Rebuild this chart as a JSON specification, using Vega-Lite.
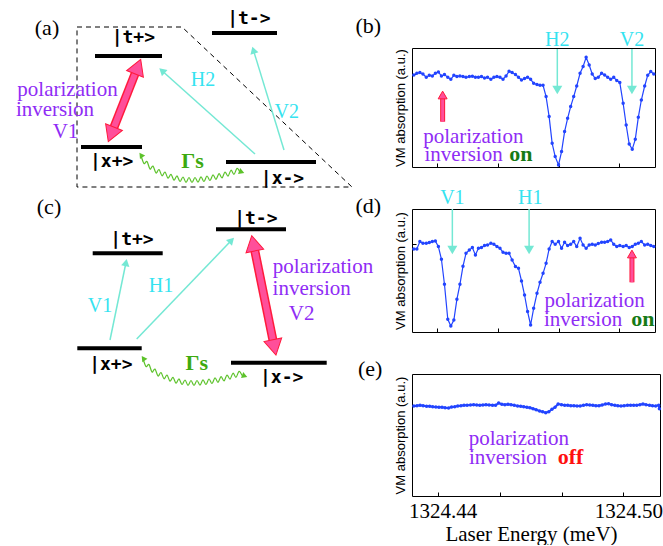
{
"$schema": "https://vega.github.io/schema/vega-lite/v6.json",
"background": "white",
"padding": {"left": 0, "top": 10, "right": 0, "bottom": 0},
"config": {
  "font": "Liberation Serif",
  "view": {"stroke": "black", "strokeWidth": 1},
  "axis": {"grid": false, "domain": false, "tickColor": "black", "labelColor": "black", "titleColor": "black", "titleFontWeight": "normal"}
},
"datasets": {
  "diagA": [
    {"role":"frame","i":0,"x":77,"y":168},{"role":"frame","i":1,"x":182,"y":168},{"role":"frame","i":2,"x":352,"y":8},{"role":"frame","i":3,"x":77,"y":8},{"role":"frame","i":4,"x":77,"y":168},
    {"role":"level","x":95,"x2":162,"y":139},{"role":"level","x":212,"x2":277,"y":162},{"role":"level","x":81,"x2":142,"y":48},{"role":"level","x":226,"x2":316,"y":33},
    {"role":"state","x":133.3,"y":152.3,"text":"|t+>"},{"role":"state","x":248.8,"y":171,"text":"|t->"},{"role":"state","x":111.7,"y":28.3,"text":"|x+>"},{"role":"state","x":282.5,"y":10.7,"text":"|x->"},
    {"role":"tag","x":47,"y":160,"text":"(a)"},
    {"role":"probeLabel","x":203,"y":109,"text":"H2"},{"role":"probeLabel","x":286.7,"y":76.7,"text":"V2"},
    {"role":"note","x":67.5,"y":98.8,"text":"polarization"},{"role":"note","x":55,"y":78.8,"text":"inversion"},{"role":"note","x":65.5,"y":56.7,"text":"V1"},
    {"role":"rate","x":192.5,"y":27.3,"text":"Γs"},
    {"role":"probe","x":255,"y":41,"x2":162,"y2":124.3},{"role":"probe","x":284,"y":45,"x2":253.4,"y2":144.9},
    {"role":"probeHead","x":162,"y":124.3,"dir":-48.2},{"role":"probeHead","x":253.4,"y":144.9,"dir":-17},
    {"role":"pump","x":137.85,"y":128.4,"x2":111.15,"y2":60.6},
    {"role":"pumpHead","x":137.85,"y":128.4,"dir":21.5},{"role":"pumpHead","x":111.15,"y":60.6,"dir":201.5},
    {"role":"relax","i":0,"x":141,"y":39.5},{"role":"relax","i":1,"x":144,"y":31.5},{"role":"relax","i":2,"x":147,"y":33.5},{"role":"relax","i":3,"x":150,"y":26},{"role":"relax","i":4,"x":153,"y":28.9},{"role":"relax","i":5,"x":156,"y":22},{"role":"relax","i":6,"x":159,"y":25.5},{"role":"relax","i":7,"x":162,"y":19.2},{"role":"relax","i":8,"x":165,"y":23},{"role":"relax","i":9,"x":168,"y":16.8},{"role":"relax","i":10,"x":171,"y":20.7},{"role":"relax","i":11,"x":174,"y":14.8},{"role":"relax","i":12,"x":177,"y":19.1},{"role":"relax","i":13,"x":180,"y":13.5},{"role":"relax","i":14,"x":183,"y":18},{"role":"relax","i":15,"x":186,"y":12.7},{"role":"relax","i":16,"x":189,"y":17.5},{"role":"relax","i":17,"x":192,"y":12.5},{"role":"relax","i":18,"x":195,"y":17.5},{"role":"relax","i":19,"x":198,"y":12.8},{"role":"relax","i":20,"x":201,"y":18.1},{"role":"relax","i":21,"x":204,"y":13.5},{"role":"relax","i":22,"x":207,"y":19},{"role":"relax","i":23,"x":210,"y":14.5},{"role":"relax","i":24,"x":213,"y":20.1},{"role":"relax","i":25,"x":216,"y":15.7},{"role":"relax","i":26,"x":219,"y":21.3},{"role":"relax","i":27,"x":222,"y":17.1},{"role":"relax","i":28,"x":225,"y":23},{"role":"relax","i":29,"x":228,"y":18.9},{"role":"relax","i":30,"x":231,"y":24.8},{"role":"relax","i":31,"x":234,"y":20.7},{"role":"relax","i":32,"x":237,"y":26.6},{"role":"relax","i":33,"x":240,"y":22.5},
    {"role":"relaxHead","x":141,"y":40,"dir":-35},{"role":"relaxHead","x":241.7,"y":23,"dir":110}
  ],
  "diagC": [
    {"role":"level","x":92.7,"x2":162.7,"y":136.7},{"role":"level","x":216,"x2":286,"y":160.7},{"role":"level","x":77.3,"x2":141.7,"y":41.7},{"role":"level","x":231,"x2":326.7,"y":27.3},
    {"role":"state","x":132,"y":145,"text":"|t+>"},{"role":"state","x":255.8,"y":165.7,"text":"|t->"},{"role":"state","x":110.8,"y":20,"text":"|x+>"},{"role":"state","x":281.7,"y":6.7,"text":"|x->"},
    {"role":"tag","x":49,"y":175.7,"text":"(c)"},
    {"role":"probeLabel","x":100,"y":78.3,"text":"V1"},{"role":"probeLabel","x":161,"y":98.3,"text":"H1"},
    {"role":"note","x":323,"y":117.2,"text":"polarization"},{"role":"note","x":311.7,"y":95.2,"text":"inversion"},{"role":"note","x":301.7,"y":70,"text":"V2"},
    {"role":"rate","x":196.7,"y":20,"text":"Γs"},
    {"role":"probe","x":110,"y":50,"x2":126,"y2":127.5},{"role":"probe","x":136.7,"y":51,"x2":231.5,"y2":149.7},
    {"role":"probeHead","x":126,"y":127.5,"dir":11.5},{"role":"probeHead","x":231.5,"y":149.7,"dir":43.8},
    {"role":"pump","x":253.3,"y":146.7,"x2":274.4,"y2":42.6},
    {"role":"pumpHead","x":253.3,"y":146.7,"dir":-11.5},{"role":"pumpHead","x":274.4,"y":42.6,"dir":168.5},
    {"role":"relax","i":0,"x":143,"y":31.5},{"role":"relax","i":1,"x":146,"y":23.5},{"role":"relax","i":2,"x":149,"y":25.5},{"role":"relax","i":3,"x":152,"y":18},{"role":"relax","i":4,"x":155,"y":20.9},{"role":"relax","i":5,"x":158,"y":14},{"role":"relax","i":6,"x":161,"y":17.5},{"role":"relax","i":7,"x":164,"y":11.2},{"role":"relax","i":8,"x":167,"y":15},{"role":"relax","i":9,"x":170,"y":8.8},{"role":"relax","i":10,"x":173,"y":12.7},{"role":"relax","i":11,"x":176,"y":6.8},{"role":"relax","i":12,"x":179,"y":11.1},{"role":"relax","i":13,"x":182,"y":5.5},{"role":"relax","i":14,"x":185,"y":10},{"role":"relax","i":15,"x":188,"y":4.7},{"role":"relax","i":16,"x":191,"y":9.5},{"role":"relax","i":17,"x":194,"y":4.5},{"role":"relax","i":18,"x":197,"y":9.5},{"role":"relax","i":19,"x":200,"y":4.8},{"role":"relax","i":20,"x":203,"y":10.1},{"role":"relax","i":21,"x":206,"y":5.5},{"role":"relax","i":22,"x":209,"y":11},{"role":"relax","i":23,"x":212,"y":6.5},{"role":"relax","i":24,"x":215,"y":12.1},{"role":"relax","i":25,"x":218,"y":7.7},{"role":"relax","i":26,"x":221,"y":13.3},{"role":"relax","i":27,"x":224,"y":9.1},{"role":"relax","i":28,"x":227,"y":15},{"role":"relax","i":29,"x":230,"y":10.9},{"role":"relax","i":30,"x":233,"y":16.8},{"role":"relax","i":31,"x":236,"y":12.7},{"role":"relax","i":32,"x":239,"y":18.6},{"role":"relax","i":33,"x":242,"y":14.5},
    {"role":"relaxHead","x":143.3,"y":31.7,"dir":-35},{"role":"relaxHead","x":244.7,"y":14,"dir":110}
  ],
  "specB": [
    {"E":1324.4323,"v":0.993},{"E":1324.4333,"v":1.010},{"E":1324.4343,"v":1.017},{"E":1324.4353,"v":1.003},{"E":1324.4364,"v":0.970},{"E":1324.4374,"v":0.990},{"E":1324.4384,"v":0.983},{"E":1324.4394,"v":1.010},{"E":1324.4404,"v":1.023},{"E":1324.4414,"v":0.983},
    {"E":1324.4424,"v":0.997},{"E":1324.4435,"v":0.970},{"E":1324.4445,"v":0.950},{"E":1324.4455,"v":0.990},{"E":1324.4465,"v":0.977},{"E":1324.4475,"v":0.983},{"E":1324.4485,"v":0.977},{"E":1324.4495,"v":0.970},{"E":1324.4506,"v":0.977},{"E":1324.4516,"v":0.980},
    {"E":1324.4526,"v":0.970},{"E":1324.4536,"v":0.970},{"E":1324.4546,"v":0.977},{"E":1324.4556,"v":0.963},{"E":1324.4566,"v":0.970},{"E":1324.4577,"v":0.950},{"E":1324.4587,"v":0.970},{"E":1324.4597,"v":0.977},{"E":1324.4607,"v":0.970},{"E":1324.4617,"v":0.950},
    {"E":1324.4627,"v":0.983},{"E":1324.4637,"v":1.030},{"E":1324.4647,"v":1.017},{"E":1324.4658,"v":0.997},{"E":1324.4668,"v":0.970},{"E":1324.4678,"v":0.943},{"E":1324.4688,"v":0.957},{"E":1324.4698,"v":0.970},{"E":1324.4708,"v":0.950},{"E":1324.4718,"v":0.910},
    {"E":1324.4729,"v":0.897},{"E":1324.4739,"v":0.890},{"E":1324.4749,"v":0.890},{"E":1324.4759,"v":0.777},{"E":1324.4769,"v":0.577},{"E":1324.4779,"v":0.310},{"E":1324.4789,"v":0.177},{"E":1324.4800,"v":0.093},{"E":1324.4810,"v":0.227},{"E":1324.4820,"v":0.427},
    {"E":1324.4830,"v":0.560},{"E":1324.4840,"v":0.677},{"E":1324.4850,"v":0.777},{"E":1324.4860,"v":0.883},{"E":1324.4871,"v":1.010},{"E":1324.4881,"v":1.077},{"E":1324.4891,"v":1.170},{"E":1324.4901,"v":1.093},{"E":1324.4911,"v":1.003},{"E":1324.4921,"v":0.957},
    {"E":1324.4931,"v":0.970},{"E":1324.4942,"v":1.010},{"E":1324.4952,"v":0.993},{"E":1324.4962,"v":0.970},{"E":1324.4972,"v":0.950},{"E":1324.4982,"v":0.970},{"E":1324.4992,"v":0.937},{"E":1324.5002,"v":0.917},{"E":1324.5013,"v":0.710},{"E":1324.5023,"v":0.493},
    {"E":1324.5033,"v":0.303},{"E":1324.5043,"v":0.250},{"E":1324.5053,"v":0.350},{"E":1324.5063,"v":0.570},{"E":1324.5073,"v":0.743},{"E":1324.5084,"v":0.883},{"E":1324.5094,"v":0.990},{"E":1324.5104,"v":1.027},{"E":1324.5114,"v":1.003}
  ],
  "specD": [
    {"E":1324.4323,"v":0.953},{"E":1324.4333,"v":0.953},{"E":1324.4343,"v":1.027},{"E":1324.4353,"v":1.010},{"E":1324.4364,"v":1.010},{"E":1324.4374,"v":1.017},{"E":1324.4384,"v":1.027},{"E":1324.4394,"v":1.033},{"E":1324.4404,"v":0.977},{"E":1324.4414,"v":0.850},
    {"E":1324.4424,"v":0.600},{"E":1324.4435,"v":0.250},{"E":1324.4445,"v":0.183},{"E":1324.4455,"v":0.243},{"E":1324.4465,"v":0.450},{"E":1324.4475,"v":0.600},{"E":1324.4485,"v":0.780},{"E":1324.4495,"v":0.910},{"E":1324.4506,"v":0.943},{"E":1324.4516,"v":0.967},
    {"E":1324.4526,"v":0.893},{"E":1324.4536,"v":0.960},{"E":1324.4546,"v":0.967},{"E":1324.4556,"v":0.987},{"E":1324.4566,"v":0.993},{"E":1324.4577,"v":1.010},{"E":1324.4587,"v":1.000},{"E":1324.4597,"v":0.977},{"E":1324.4607,"v":0.960},{"E":1324.4617,"v":0.920},
    {"E":1324.4627,"v":0.910},{"E":1324.4637,"v":0.910},{"E":1324.4647,"v":0.843},{"E":1324.4658,"v":0.777},{"E":1324.4668,"v":0.760},{"E":1324.4678,"v":0.633},{"E":1324.4688,"v":0.493},{"E":1324.4698,"v":0.327},{"E":1324.4708,"v":0.193},{"E":1324.4718,"v":0.360},
    {"E":1324.4729,"v":0.510},{"E":1324.4739,"v":0.620},{"E":1324.4749,"v":0.710},{"E":1324.4759,"v":0.810},{"E":1324.4769,"v":0.953},{"E":1324.4779,"v":1.027},{"E":1324.4789,"v":1.000},{"E":1324.4800,"v":1.027},{"E":1324.4810,"v":0.960},{"E":1324.4820,"v":1.020},
    {"E":1324.4830,"v":0.987},{"E":1324.4840,"v":1.000},{"E":1324.4850,"v":1.027},{"E":1324.4860,"v":0.977},{"E":1324.4871,"v":1.060},{"E":1324.4881,"v":0.993},{"E":1324.4891,"v":0.960},{"E":1324.4901,"v":0.993},{"E":1324.4911,"v":1.000},{"E":1324.4921,"v":0.993},
    {"E":1324.4931,"v":1.007},{"E":1324.4942,"v":1.020},{"E":1324.4952,"v":1.020},{"E":1324.4962,"v":1.027},{"E":1324.4972,"v":1.043},{"E":1324.4982,"v":1.000},{"E":1324.4992,"v":0.977},{"E":1324.5002,"v":0.987},{"E":1324.5013,"v":0.977},{"E":1324.5023,"v":0.987},
    {"E":1324.5033,"v":0.967},{"E":1324.5043,"v":0.977},{"E":1324.5053,"v":1.000},{"E":1324.5063,"v":1.010},{"E":1324.5073,"v":1.027},{"E":1324.5084,"v":0.993},{"E":1324.5094,"v":1.000},{"E":1324.5104,"v":0.987},{"E":1324.5114,"v":0.977}
  ],
  "specE": [
    {"E":1324.4323,"v":1.000},{"E":1324.4333,"v":1.003},{"E":1324.4343,"v":1.007},{"E":1324.4353,"v":1.003},{"E":1324.4364,"v":0.997},{"E":1324.4374,"v":0.997},{"E":1324.4384,"v":0.993},{"E":1324.4394,"v":0.990},{"E":1324.4404,"v":0.987},{"E":1324.4414,"v":0.987},
    {"E":1324.4424,"v":0.983},{"E":1324.4435,"v":0.980},{"E":1324.4445,"v":0.990},{"E":1324.4455,"v":0.993},{"E":1324.4465,"v":1.000},{"E":1324.4475,"v":1.003},{"E":1324.4485,"v":1.007},{"E":1324.4495,"v":1.007},{"E":1324.4506,"v":1.010},{"E":1324.4516,"v":1.013},
    {"E":1324.4526,"v":1.010},{"E":1324.4536,"v":1.007},{"E":1324.4546,"v":1.010},{"E":1324.4556,"v":1.013},{"E":1324.4566,"v":1.010},{"E":1324.4577,"v":1.007},{"E":1324.4587,"v":1.007},{"E":1324.4597,"v":1.030},{"E":1324.4607,"v":1.017},{"E":1324.4617,"v":1.013},
    {"E":1324.4627,"v":1.017},{"E":1324.4637,"v":1.013},{"E":1324.4647,"v":1.007},{"E":1324.4658,"v":1.000},{"E":1324.4668,"v":0.997},{"E":1324.4678,"v":0.993},{"E":1324.4688,"v":0.987},{"E":1324.4698,"v":0.983},{"E":1324.4708,"v":0.973},{"E":1324.4718,"v":0.963},
    {"E":1324.4729,"v":0.950},{"E":1324.4739,"v":0.943},{"E":1324.4749,"v":0.933},{"E":1324.4759,"v":0.943},{"E":1324.4769,"v":0.967},{"E":1324.4779,"v":0.987},{"E":1324.4789,"v":1.020},{"E":1324.4800,"v":1.013},{"E":1324.4810,"v":1.007},{"E":1324.4820,"v":1.007},
    {"E":1324.4830,"v":1.003},{"E":1324.4840,"v":1.003},{"E":1324.4850,"v":1.000},{"E":1324.4860,"v":1.000},{"E":1324.4871,"v":1.007},{"E":1324.4881,"v":1.013},{"E":1324.4891,"v":1.010},{"E":1324.4901,"v":1.007},{"E":1324.4911,"v":1.003},{"E":1324.4921,"v":1.003},
    {"E":1324.4931,"v":1.010},{"E":1324.4942,"v":1.020},{"E":1324.4952,"v":1.023},{"E":1324.4962,"v":1.013},{"E":1324.4972,"v":1.007},{"E":1324.4982,"v":1.003},{"E":1324.4992,"v":1.000},{"E":1324.5002,"v":1.003},{"E":1324.5013,"v":1.007},{"E":1324.5023,"v":1.007},
    {"E":1324.5033,"v":1.007},{"E":1324.5043,"v":1.007},{"E":1324.5053,"v":1.013},{"E":1324.5063,"v":1.020},{"E":1324.5073,"v":1.013},{"E":1324.5084,"v":1.007},{"E":1324.5094,"v":1.003},{"E":1324.5104,"v":1.000},{"E":1324.5114,"v":1.007},{"E":1324.5116,"v":0.973}
  ],
  "annB": [
    {"role":"tag","E":1324.4173,"v":1.41,"text":"(b)"},
    {"role":"probeLabel","E":1324.4796,"v":1.283,"text":"H2"},{"role":"probeLabel","E":1324.5042,"v":1.283,"text":"V2"},
    {"role":"probe","E":1324.4796,"v":1.253,"v2":0.85},{"role":"probe","E":1324.5042,"v":1.253,"v2":0.85},
    {"role":"probeHead","E":1324.4796,"v":0.843},{"role":"probeHead","E":1324.5042,"v":0.843},
    {"role":"pump","E":1324.4418,"v":0.526,"v2":0.79},{"role":"pumpHead","E":1324.4418,"v":0.793},
    {"role":"note","E":1324.4519,"v":0.315,"text":"polarization"},{"role":"note","E":1324.4487,"v":0.13,"text":"inversion"},
    {"role":"status","E":1324.4676,"v":0.13,"text":"on"}
  ],
  "annD": [
    {"role":"tag","E":1324.4173,"v":1.31,"text":"(d)"},
    {"role":"probeLabel","E":1324.4450,"v":1.403,"text":"V1"},{"role":"probeLabel","E":1324.4707,"v":1.403,"text":"H1"},
    {"role":"probe","E":1324.4450,"v":1.353,"v2":0.95},{"role":"probe","E":1324.4703,"v":1.353,"v2":0.95},
    {"role":"probeHead","E":1324.4450,"v":0.943},{"role":"probeHead","E":1324.4703,"v":0.943},
    {"role":"pump","E":1324.5042,"v":0.62,"v2":0.89},{"role":"pumpHead","E":1324.5042,"v":0.903},
    {"role":"note","E":1324.4919,"v":0.37,"text":"polarization"},{"role":"note","E":1324.4881,"v":0.18,"text":"inversion"},
    {"role":"status","E":1324.5078,"v":0.18,"text":"on"}
  ],
  "annE": [
    {"role":"tag","E":1324.4182,"v":1.303,"text":"(e)"},
    {"role":"note","E":1324.4662,"v":0.615,"text":"polarization"},{"role":"note","E":1324.4627,"v":0.42,"text":"inversion"},
    {"role":"status","E":1324.4829,"v":0.42,"text":"off"}
  ]
},
"bounds": "flush",
"align": "each",
"columns": 2,
"spacing": {"row": 42, "column": 57},
"concat": [
  {
    "width": 355, "height": 119,
    "view": {"stroke": null},
    "data": {"name": "diagA"},
    "encoding": {
      "x": {"field": "x", "type": "quantitative", "scale": {"domain": [0, 355], "nice": false, "zero": false}, "axis": null},
      "y": {"field": "y", "type": "quantitative", "scale": {"domain": [28, 147], "nice": false, "zero": false}, "axis": null}
    },
    "layer": [
      {"transform": [{"filter": "datum.role == 'frame'"}], "mark": {"type": "line", "stroke": "black", "strokeWidth": 1, "strokeDash": [5, 4]}, "encoding": {"order": {"field": "i", "type": "quantitative"}}},
      {"transform": [{"filter": "datum.role == 'level'"}], "mark": {"type": "rule", "stroke": "black", "strokeWidth": 4}, "encoding": {"x2": {"field": "x2"}}},
      {"transform": [{"filter": "datum.role == 'probe'"}], "mark": {"type": "rule", "stroke": "#74e8d4", "strokeWidth": 1.5}, "encoding": {"x2": {"field": "x2"}, "y2": {"field": "y2"}}},
      {"transform": [{"filter": "datum.role == 'probeHead'"}], "mark": {"type": "point", "shape": "triangle-up", "filled": true, "size": 70, "color": "#74e8d4", "opacity": 1}, "encoding": {"angle": {"field": "dir", "type": "quantitative", "scale": null}}},
      {"transform": [{"filter": "datum.role == 'pump'"}], "mark": {"type": "rule", "stroke": "#ff1a3c", "strokeWidth": 9}, "encoding": {"x2": {"field": "x2"}, "y2": {"field": "y2"}}},
      {"transform": [{"filter": "datum.role == 'pump'"}], "mark": {"type": "rule", "stroke": "#ff4f9a", "strokeWidth": 6}, "encoding": {"x2": {"field": "x2"}, "y2": {"field": "y2"}}},
      {"transform": [{"filter": "datum.role == 'pumpHead'"}], "mark": {"type": "point", "shape": "triangle-up", "filled": true, "size": 324, "fill": "#ff4f9a", "stroke": "#ff1a3c", "strokeWidth": 1, "opacity": 1}, "encoding": {"angle": {"field": "dir", "type": "quantitative", "scale": null}}},
      {"transform": [{"filter": "datum.role == 'relax'"}], "mark": {"type": "line", "stroke": "#5cc22a", "strokeWidth": 1.2, "interpolate": "cardinal"}, "encoding": {"order": {"field": "i", "type": "quantitative"}}},
      {"transform": [{"filter": "datum.role == 'relaxHead'"}], "mark": {"type": "point", "shape": "triangle-up", "filled": true, "size": 40, "color": "#5cc22a", "opacity": 1}, "encoding": {"angle": {"field": "dir", "type": "quantitative", "scale": null}}},
      {"transform": [{"filter": "datum.role == 'state'"}], "mark": {"type": "text", "font": "DejaVu Sans Mono", "fontWeight": "bold", "fontSize": 18, "baseline": "alphabetic", "align": "center", "color": "black"}, "encoding": {"text": {"field": "text"}}},
      {"transform": [{"filter": "datum.role == 'tag'"}], "mark": {"type": "text", "font": "Liberation Serif", "fontSize": 22, "baseline": "alphabetic", "align": "center", "color": "black"}, "encoding": {"text": {"field": "text"}}},
      {"transform": [{"filter": "datum.role == 'probeLabel'"}], "mark": {"type": "text", "font": "Liberation Serif", "fontSize": 20, "baseline": "alphabetic", "align": "center", "color": "#35e3f0"}, "encoding": {"text": {"field": "text"}}},
      {"transform": [{"filter": "datum.role == 'note'"}], "mark": {"type": "text", "font": "Liberation Serif", "fontSize": 21, "baseline": "alphabetic", "align": "center", "color": "#8f2cf5"}, "encoding": {"text": {"field": "text"}}},
      {"transform": [{"filter": "datum.role == 'rate'"}], "mark": {"type": "text", "font": "Liberation Serif", "fontWeight": "bold", "fontSize": 22, "baseline": "alphabetic", "align": "center", "color": "#3daa10"}, "encoding": {"text": {"field": "text"}}}
    ]
  },
  {
    "width": 243, "height": 119,
    "encoding": {
      "x": {"field": "E", "type": "quantitative", "scale": {"domain": [1324.4317, 1324.5118], "nice": false, "zero": false}, "axis": {"values": [1324.44, 1324.46, 1324.48, 1324.5], "tickSize": -4, "labels": false, "title": null}},
      "y": {"field": "v", "type": "quantitative", "scale": {"domain": [0.073, 1.263], "nice": false, "zero": false}, "axis": {"values": [1], "tickSize": -4, "labels": false, "title": "VM absorption (a.u.)", "titleFont": "Liberation Sans", "titleFontSize": 13, "titlePadding": 4}}
    },
    "layer": [
      {"data": {"name": "specB"}, "mark": {"type": "line", "color": "#2244ff", "strokeWidth": 1.2, "point": {"filled": true, "size": 12, "color": "#2244ff"}}},
      {"data": {"name": "annB"}, "transform": [{"filter": "datum.role == 'probe'"}], "mark": {"type": "rule", "stroke": "#74e8d4", "strokeWidth": 1.5}, "encoding": {"y2": {"field": "v2"}}},
      {"data": {"name": "annB"}, "transform": [{"filter": "datum.role == 'probeHead'"}], "mark": {"type": "point", "shape": "triangle-down", "filled": true, "size": 100, "color": "#74e8d4", "opacity": 1}},
      {"data": {"name": "annB"}, "transform": [{"filter": "datum.role == 'pump'"}], "mark": {"type": "rule", "stroke": "#ff1a3c", "strokeWidth": 5}, "encoding": {"y2": {"field": "v2"}}},
      {"data": {"name": "annB"}, "transform": [{"filter": "datum.role == 'pump'"}], "mark": {"type": "rule", "stroke": "#ff4f9a", "strokeWidth": 3}, "encoding": {"y2": {"field": "v2"}}},
      {"data": {"name": "annB"}, "transform": [{"filter": "datum.role == 'pumpHead'"}], "mark": {"type": "point", "shape": "triangle-up", "filled": true, "size": 80, "fill": "#ff4f9a", "stroke": "#ff1a3c", "strokeWidth": 1, "opacity": 1}},
      {"data": {"name": "annB"}, "transform": [{"filter": "datum.role == 'tag'"}], "mark": {"type": "text", "font": "Liberation Serif", "fontSize": 22, "baseline": "alphabetic", "align": "center", "color": "black"}, "encoding": {"text": {"field": "text"}}},
      {"data": {"name": "annB"}, "transform": [{"filter": "datum.role == 'probeLabel'"}], "mark": {"type": "text", "font": "Liberation Serif", "fontSize": 20, "baseline": "alphabetic", "align": "center", "color": "#35e3f0"}, "encoding": {"text": {"field": "text"}}},
      {"data": {"name": "annB"}, "transform": [{"filter": "datum.role == 'note'"}], "mark": {"type": "text", "font": "Liberation Serif", "fontSize": 21, "baseline": "alphabetic", "align": "center", "color": "#8f2cf5"}, "encoding": {"text": {"field": "text"}}},
      {"data": {"name": "annB"}, "transform": [{"filter": "datum.role == 'status'"}], "mark": {"type": "text", "font": "Liberation Serif", "fontWeight": "bold", "fontSize": 22, "baseline": "alphabetic", "align": "center", "color": "#167a16"}, "encoding": {"text": {"field": "text"}}}
    ]
  },
  {
    "width": 355, "height": 123,
    "view": {"stroke": null},
    "data": {"name": "diagC"},
    "encoding": {
      "x": {"field": "x", "type": "quantitative", "scale": {"domain": [0, 355], "nice": false, "zero": false}, "axis": null},
      "y": {"field": "y", "type": "quantitative", "scale": {"domain": [58, 181], "nice": false, "zero": false}, "axis": null}
    },
    "layer": [
      {"transform": [{"filter": "datum.role == 'level'"}], "mark": {"type": "rule", "stroke": "black", "strokeWidth": 4}, "encoding": {"x2": {"field": "x2"}}},
      {"transform": [{"filter": "datum.role == 'probe'"}], "mark": {"type": "rule", "stroke": "#74e8d4", "strokeWidth": 1.5}, "encoding": {"x2": {"field": "x2"}, "y2": {"field": "y2"}}},
      {"transform": [{"filter": "datum.role == 'probeHead'"}], "mark": {"type": "point", "shape": "triangle-up", "filled": true, "size": 70, "color": "#74e8d4", "opacity": 1}, "encoding": {"angle": {"field": "dir", "type": "quantitative", "scale": null}}},
      {"transform": [{"filter": "datum.role == 'pump'"}], "mark": {"type": "rule", "stroke": "#ff1a3c", "strokeWidth": 9}, "encoding": {"x2": {"field": "x2"}, "y2": {"field": "y2"}}},
      {"transform": [{"filter": "datum.role == 'pump'"}], "mark": {"type": "rule", "stroke": "#ff4f9a", "strokeWidth": 6}, "encoding": {"x2": {"field": "x2"}, "y2": {"field": "y2"}}},
      {"transform": [{"filter": "datum.role == 'pumpHead'"}], "mark": {"type": "point", "shape": "triangle-up", "filled": true, "size": 324, "fill": "#ff4f9a", "stroke": "#ff1a3c", "strokeWidth": 1, "opacity": 1}, "encoding": {"angle": {"field": "dir", "type": "quantitative", "scale": null}}},
      {"transform": [{"filter": "datum.role == 'relax'"}], "mark": {"type": "line", "stroke": "#5cc22a", "strokeWidth": 1.2, "interpolate": "cardinal"}, "encoding": {"order": {"field": "i", "type": "quantitative"}}},
      {"transform": [{"filter": "datum.role == 'relaxHead'"}], "mark": {"type": "point", "shape": "triangle-up", "filled": true, "size": 40, "color": "#5cc22a", "opacity": 1}, "encoding": {"angle": {"field": "dir", "type": "quantitative", "scale": null}}},
      {"transform": [{"filter": "datum.role == 'state'"}], "mark": {"type": "text", "font": "DejaVu Sans Mono", "fontWeight": "bold", "fontSize": 18, "baseline": "alphabetic", "align": "center", "color": "black"}, "encoding": {"text": {"field": "text"}}},
      {"transform": [{"filter": "datum.role == 'tag'"}], "mark": {"type": "text", "font": "Liberation Serif", "fontSize": 22, "baseline": "alphabetic", "align": "center", "color": "black"}, "encoding": {"text": {"field": "text"}}},
      {"transform": [{"filter": "datum.role == 'probeLabel'"}], "mark": {"type": "text", "font": "Liberation Serif", "fontSize": 20, "baseline": "alphabetic", "align": "center", "color": "#35e3f0"}, "encoding": {"text": {"field": "text"}}},
      {"transform": [{"filter": "datum.role == 'note'"}], "mark": {"type": "text", "font": "Liberation Serif", "fontSize": 21, "baseline": "alphabetic", "align": "center", "color": "#8f2cf5"}, "encoding": {"text": {"field": "text"}}},
      {"transform": [{"filter": "datum.role == 'rate'"}], "mark": {"type": "text", "font": "Liberation Serif", "fontWeight": "bold", "fontSize": 22, "baseline": "alphabetic", "align": "center", "color": "#3daa10"}, "encoding": {"text": {"field": "text"}}}
    ]
  },
  {
    "width": 243, "height": 123,
    "encoding": {
      "x": {"field": "E", "type": "quantitative", "scale": {"domain": [1324.4317, 1324.5118], "nice": false, "zero": false}, "axis": {"values": [1324.44, 1324.46, 1324.48, 1324.5], "tickSize": -4, "labels": false, "title": null}},
      "y": {"field": "v", "type": "quantitative", "scale": {"domain": [0.123, 1.353], "nice": false, "zero": false}, "axis": {"values": [1], "tickSize": -4, "labels": false, "title": "VM absorption (a.u.)", "titleFont": "Liberation Sans", "titleFontSize": 13, "titlePadding": 4}}
    },
    "layer": [
      {"data": {"name": "specD"}, "mark": {"type": "line", "color": "#2244ff", "strokeWidth": 1.2, "point": {"filled": true, "size": 12, "color": "#2244ff"}}},
      {"data": {"name": "annD"}, "transform": [{"filter": "datum.role == 'probe'"}], "mark": {"type": "rule", "stroke": "#74e8d4", "strokeWidth": 1.5}, "encoding": {"y2": {"field": "v2"}}},
      {"data": {"name": "annD"}, "transform": [{"filter": "datum.role == 'probeHead'"}], "mark": {"type": "point", "shape": "triangle-down", "filled": true, "size": 100, "color": "#74e8d4", "opacity": 1}},
      {"data": {"name": "annD"}, "transform": [{"filter": "datum.role == 'pump'"}], "mark": {"type": "rule", "stroke": "#ff1a3c", "strokeWidth": 5}, "encoding": {"y2": {"field": "v2"}}},
      {"data": {"name": "annD"}, "transform": [{"filter": "datum.role == 'pump'"}], "mark": {"type": "rule", "stroke": "#ff4f9a", "strokeWidth": 3}, "encoding": {"y2": {"field": "v2"}}},
      {"data": {"name": "annD"}, "transform": [{"filter": "datum.role == 'pumpHead'"}], "mark": {"type": "point", "shape": "triangle-up", "filled": true, "size": 80, "fill": "#ff4f9a", "stroke": "#ff1a3c", "strokeWidth": 1, "opacity": 1}},
      {"data": {"name": "annD"}, "transform": [{"filter": "datum.role == 'tag'"}], "mark": {"type": "text", "font": "Liberation Serif", "fontSize": 22, "baseline": "alphabetic", "align": "center", "color": "black"}, "encoding": {"text": {"field": "text"}}},
      {"data": {"name": "annD"}, "transform": [{"filter": "datum.role == 'probeLabel'"}], "mark": {"type": "text", "font": "Liberation Serif", "fontSize": 20, "baseline": "alphabetic", "align": "center", "color": "#35e3f0"}, "encoding": {"text": {"field": "text"}}},
      {"data": {"name": "annD"}, "transform": [{"filter": "datum.role == 'note'"}], "mark": {"type": "text", "font": "Liberation Serif", "fontSize": 21, "baseline": "alphabetic", "align": "center", "color": "#8f2cf5"}, "encoding": {"text": {"field": "text"}}},
      {"data": {"name": "annD"}, "transform": [{"filter": "datum.role == 'status'"}], "mark": {"type": "text", "font": "Liberation Serif", "fontWeight": "bold", "fontSize": 22, "baseline": "alphabetic", "align": "center", "color": "#167a16"}, "encoding": {"text": {"field": "text"}}}
    ]
  },
  {
    "width": 355, "height": 122,
    "view": {"stroke": null},
    "data": {"values": []},
    "mark": {"type": "point", "opacity": 0}
  },
  {
    "width": 248, "height": 122,
    "encoding": {
      "x": {"field": "E", "type": "quantitative", "scale": {"domain": [1324.4317, 1324.5118], "nice": false, "zero": false}, "axis": {"values": [1324.44, 1324.46, 1324.48, 1324.5], "tickSize": -4, "labelFlush": false, "labelFont": "Liberation Serif", "labelFontSize": 21, "labelPadding": 8, "labelOffset": 5, "labelExpr": "(abs(datum.value - 1324.44) < 0.001 || abs(datum.value - 1324.5) < 0.001) ? format(datum.value, '.2f') : ''", "title": "Laser Energy (meV)", "titleFont": "Liberation Serif", "titleFontSize": 21, "titlePadding": 2, "titleX": 119}},
      "y": {"field": "v", "type": "quantitative", "scale": {"domain": [0.10, 1.32], "nice": false, "zero": false}, "axis": {"values": [1], "tickSize": -4, "labels": false, "title": "VM absorption (a.u.)", "titleFont": "Liberation Sans", "titleFontSize": 13, "titlePadding": 4}}
    },
    "layer": [
      {"data": {"name": "specE"}, "mark": {"type": "line", "color": "#2244ff", "strokeWidth": 2, "point": {"filled": true, "size": 12, "color": "#2244ff"}}},
      {"data": {"name": "annE"}, "transform": [{"filter": "datum.role == 'tag'"}], "mark": {"type": "text", "font": "Liberation Serif", "fontSize": 22, "baseline": "alphabetic", "align": "center", "color": "black"}, "encoding": {"text": {"field": "text"}}},
      {"data": {"name": "annE"}, "transform": [{"filter": "datum.role == 'note'"}], "mark": {"type": "text", "font": "Liberation Serif", "fontSize": 21, "baseline": "alphabetic", "align": "center", "color": "#8f2cf5"}, "encoding": {"text": {"field": "text"}}},
      {"data": {"name": "annE"}, "transform": [{"filter": "datum.role == 'status'"}], "mark": {"type": "text", "font": "Liberation Serif", "fontWeight": "bold", "fontSize": 22, "baseline": "alphabetic", "align": "center", "color": "#ff1010"}, "encoding": {"text": {"field": "text"}}}
    ]
  }
]
}
